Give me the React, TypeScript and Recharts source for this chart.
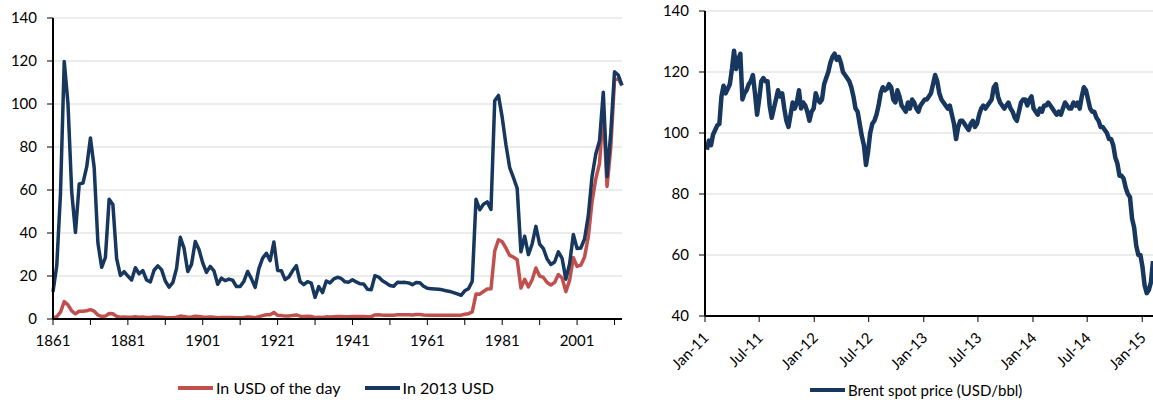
import { LineChart, Line, XAxis, YAxis, CartesianGrid, Legend } from 'recharts';

const NAVY = '#17375E';
const RED = '#C0504D';
const GRID = '#d9d9d9';
const FONT = 'Lato, "Open Sans", sans-serif';

// ---- left chart: annual crude price, 1861-2013 ----
const firstYear = 1861;
const histSeriesNames = ['In USD of the day', 'In 2013 USD'];

const usdOfTheDay = [
  0.49, 1.05, 3.15, 8.06, 6.59, 3.74, 2.41, 3.63, 3.64, 3.86,
  4.34, 3.64, 1.83, 1.17, 1.35, 2.56, 2.42, 1.19, 0.86, 0.95,
  0.86, 0.78, 1.0, 0.84, 0.88, 0.71, 0.67, 0.88, 0.94, 0.87,
  0.67, 0.56, 0.64, 0.84, 1.36, 1.18, 0.79, 0.91, 1.29, 1.19,
  0.96, 0.8, 0.94, 0.86, 0.62, 0.73, 0.72, 0.72, 0.7, 0.61,
  0.61, 0.74, 0.95, 0.81, 0.64, 1.1, 1.56, 1.98, 2.01, 3.07,
  1.73, 1.61, 1.34, 1.43, 1.68, 1.88, 1.3, 1.17, 1.27, 1.19,
  0.65, 0.87, 0.67, 1.0, 0.97, 1.09, 1.18, 1.13, 1.02, 1.02,
  1.14, 1.19, 1.2, 1.21, 1.05, 1.12, 1.9, 1.99, 1.8, 1.71,
  1.71, 1.71, 1.93, 1.93, 1.93, 1.93, 1.9, 2.08, 2.08, 1.9,
  1.8, 1.8, 1.8, 1.8, 1.8, 1.8, 1.8, 1.8, 1.8, 1.8,
  2.24, 2.48, 3.29, 11.58, 11.53, 12.8, 13.92, 14.02, 31.61, 36.83,
  35.93, 32.97, 29.55, 28.78, 27.56, 14.43, 18.44, 14.92, 18.23, 23.73,
  20.0, 19.32, 16.97, 15.82, 17.02, 20.67, 19.09, 12.72, 17.97, 28.5,
  24.44, 25.02, 28.83, 38.27, 54.52, 65.14, 72.39, 97.26, 61.67, 79.5,
  111.26, 111.67, 108.66,
];

const usd2013 = [
  12.71, 24.72, 58.34, 119.82, 100.22, 59.08, 40.27, 62.78, 63.21, 70.72,
  84.18, 70.47, 35.3, 24.06, 28.67, 55.71, 53.22, 28.06, 20.26, 22.02,
  19.96, 18.18, 23.86, 21.06, 22.55, 18.14, 17.23, 22.68, 24.71, 22.96,
  17.68, 14.79, 16.89, 23.46, 37.98, 32.95, 22.06, 25.41, 36.03, 32.29,
  26.05, 21.71, 24.45, 22.38, 16.13, 18.99, 17.84, 18.55, 18.03, 15.1,
  15.1, 17.58, 22.12, 18.79, 14.7, 23.44, 28.3, 30.59, 27.13, 35.79,
  22.61, 22.43, 18.32, 19.53, 22.4, 24.81, 17.44, 15.97, 17.35, 16.7,
  10.05, 15.07, 12.28, 17.69, 16.79, 18.62, 19.4, 18.86, 17.28, 17.14,
  18.28, 17.25, 16.38, 16.24, 13.81, 13.62, 20.15, 19.48, 17.77, 16.72,
  15.54, 15.21, 17.05, 16.97, 17.04, 16.79, 15.98, 16.99, 16.9, 15.23,
  14.27, 14.11, 13.97, 13.79, 13.56, 13.17, 12.82, 12.28, 11.65, 11.04,
  13.11, 14.09, 17.59, 55.65, 50.82, 53.36, 54.48, 50.98, 101.5, 104.0,
  93.77, 81.06, 70.36, 65.73, 60.79, 31.24, 38.52, 29.93, 34.89, 43.09,
  34.86, 32.69, 27.88, 25.34, 26.51, 31.27, 28.23, 18.52, 25.61, 39.28,
  32.77, 33.02, 37.2, 48.1, 66.29, 76.72, 82.9, 105.5, 66.25, 86.57,
  115.0, 113.5, 108.66,
];

const histTicks = [1861, 1871, 1881, 1891, 1901, 1911, 1921, 1931, 1941, 1951, 1961, 1971, 1981, 1991, 2001, 2011];
const histLabelled = [1861, 1881, 1901, 1921, 1941, 1961, 1981, 2001];
const histYTicks = [0, 20, 40, 60, 80, 100, 120, 140];

const histData = usd2013.map((real, i) => ({
  year: firstYear + i,
  nominal: usdOfTheDay[i],
  real,
}));

// ---- right chart: Brent spot, weekly readings (Fridays) ----
const brentStart = Date.UTC(2011, 0, 7);
const WEEK = 7 * 24 * 3600 * 1000;

const brent2011 = [
  94.5, 97.5, 96, 99.5,
  101, 102.5, 103, 112,
  115.5, 113, 114.5, 116,
  121, 127, 121, 124, 126,
  111, 113, 114, 116,
  117, 119, 113, 106,
  111, 117, 118, 117, 117,
  109, 105, 108, 111,
  114, 112, 113, 108, 104,
  102, 106, 110, 108,
  110, 114, 108, 110,
  109, 107, 104, 107, 108,
];
const brent2012 = [
  113, 111, 110, 111,
  116, 118, 120, 123,
  125, 126, 124, 125, 123,
  120, 119, 118, 117,
  115, 112, 108, 107,
  103, 99, 96, 89.5, 94,
  100, 103, 104, 106,
  109, 113, 115, 114, 114.5,
  116, 115, 111, 110,
  114, 112, 109, 108,
  107, 110, 108, 111, 110,
  108, 107, 109, 110,
];
const brent2013 = [
  111, 111, 112, 113,
  116, 119, 117, 113,
  111, 110, 109, 108, 109,
  106, 103, 98, 102,
  104, 104, 103, 102, 101,
  103, 104, 102, 103,
  106, 108, 109, 108,
  109, 110, 111, 115, 116,
  112, 110, 109, 108,
  109, 110, 108, 107,
  105, 104, 107, 110, 111,
  111, 109, 111, 112,
];
const brent2014 = [
  108, 107, 106, 108, 107,
  109, 109, 110, 109,
  108, 107, 106, 107,
  106, 108, 110, 109,
  108, 108, 110, 109, 110,
  108, 112, 115, 114,
  111, 108, 107, 107,
  105, 104, 102, 102, 101,
  100, 98, 98, 96,
  92, 90, 86, 86, 85,
  82, 80, 79, 72,
  69, 63, 60, 60,
];
const brent2015 = [56, 50, 47.5, 48.5, 51, 58];

const brentValues = [...brent2011, ...brent2012, ...brent2013, ...brent2014, ...brent2015];
const brentData = brentValues.map((price, i) => ({ date: brentStart + i * WEEK, price }));

const brentTickLabels = ['Jan-11', 'Jul-11', 'Jan-12', 'Jul-12', 'Jan-13', 'Jul-13', 'Jan-14', 'Jul-14', 'Jan-15'];
const brentTicks = [
  Date.UTC(2011, 0, 1), Date.UTC(2011, 6, 1), Date.UTC(2012, 0, 1), Date.UTC(2012, 6, 1),
  Date.UTC(2013, 0, 1), Date.UTC(2013, 6, 1), Date.UTC(2014, 0, 1), Date.UTC(2014, 6, 1),
  Date.UTC(2015, 0, 1),
];
const brentYTicks = [40, 60, 80, 100, 120, 140];

const axisLine = { stroke: '#000', strokeWidth: 2 };
const tickLine = { stroke: '#000' };
const tickText = { fill: '#000', fontSize: 15 };

function legendContent(fontSize: number, gap: number) {
  return function LineLegend({ payload }: any) {
    // keep the series order, not the alphabetical one
    const items = [...(payload || [])].sort(
      (a: any, b: any) => histSeriesNames.indexOf(a.value) - histSeriesNames.indexOf(b.value),
    );
    return (
      <div style={{ display: 'flex', gap, fontSize, color: '#000', lineHeight: '20px', whiteSpace: 'nowrap' }}>
        {items.map((p: any) => (
          <div key={p.value} style={{ display: 'flex', alignItems: 'center' }}>
            <span style={{ display: 'inline-block', width: 35, height: 4, background: p.color, marginRight: 3 }} />
            <span>{p.value}</span>
          </div>
        ))}
      </div>
    );
  };
}

const histLegend = legendContent(16, 24);
const brentLegend = legendContent(15, 10);

function DateTick({ x, y, payload }: any) {
  const i = brentTicks.indexOf(payload.value);
  const ax = x + 1;
  const ay = y + 11;
  return (
    <text x={ax} y={ay} dy="0.35em" textAnchor="end" fill="#000" fontSize={15}
      transform={`rotate(-45 ${ax} ${ay})`}>
      {brentTickLabels[i]}
    </text>
  );
}

export default function App() {
  return (
    <div style={{ position: 'absolute', left: 0, top: 0, width: 1153, height: 402, background: '#fff', fontFamily: FONT, overflow: 'hidden' }}>
      <div style={{ position: 'absolute', left: 0, top: 0 }}>
        <LineChart width={640} height={402} data={histData} margin={{ top: 18, right: 18, left: 0, bottom: 0 }}>
          <CartesianGrid vertical={false} stroke={GRID} />
          <XAxis
            dataKey="year" type="number" domain={[1861, 2013]} ticks={histTicks} interval={0}
            tickFormatter={(v: number) => (histLabelled.includes(v) ? String(v) : '')}
            height={83} axisLine={axisLine} tickLine={tickLine} tickSize={6} tickMargin={10} tick={tickText}
          />
          <YAxis
            domain={[0, 140]} ticks={histYTicks} width={53} interval={0}
            axisLine={axisLine} tickLine={tickLine} tickSize={6} tickMargin={10} tick={tickText}
          />
          <Legend verticalAlign="middle" itemSorter={null} content={histLegend}
            wrapperStyle={{ top: 378, left: 178, width: 'auto' }} />
          <Line type="linear" dataKey="nominal" name={histSeriesNames[0]} stroke={RED} strokeWidth={3.5}
            dot={false} activeDot={false} isAnimationActive={false} strokeLinejoin="round" />
          <Line type="linear" dataKey="real" name={histSeriesNames[1]} stroke={NAVY} strokeWidth={3.5}
            dot={false} activeDot={false} isAnimationActive={false} strokeLinejoin="round" />
        </LineChart>
      </div>
      <div style={{ position: 'absolute', left: 640, top: 0 }}>
        <LineChart width={513} height={402} data={brentData} margin={{ top: 11, right: 0, left: 0, bottom: 0 }}>
          <CartesianGrid vertical={false} stroke={GRID} />
          <XAxis
            dataKey="date" type="number" domain={[Date.UTC(2011, 0, 1), Date.UTC(2015, 1, 6)]}
            ticks={brentTicks} interval={0} allowDataOverflow
            height={86} axisLine={axisLine} tickLine={tickLine} tickSize={6} tick={<DateTick />}
          />
          <YAxis
            domain={[40, 140]} ticks={brentYTicks} width={65} interval={0}
            axisLine={axisLine} tickLine={tickLine} tickSize={6} tickMargin={10} tick={tickText}
          />
          <Legend verticalAlign="middle" content={brentLegend} wrapperStyle={{ top: 380, left: 170, width: 'auto' }} />
          <Line type="linear" dataKey="price" name="Brent spot price (USD/bbl)" stroke={NAVY} strokeWidth={4.5}
            dot={false} activeDot={false} isAnimationActive={false} strokeLinejoin="round" />
        </LineChart>
      </div>
    </div>
  );
}
